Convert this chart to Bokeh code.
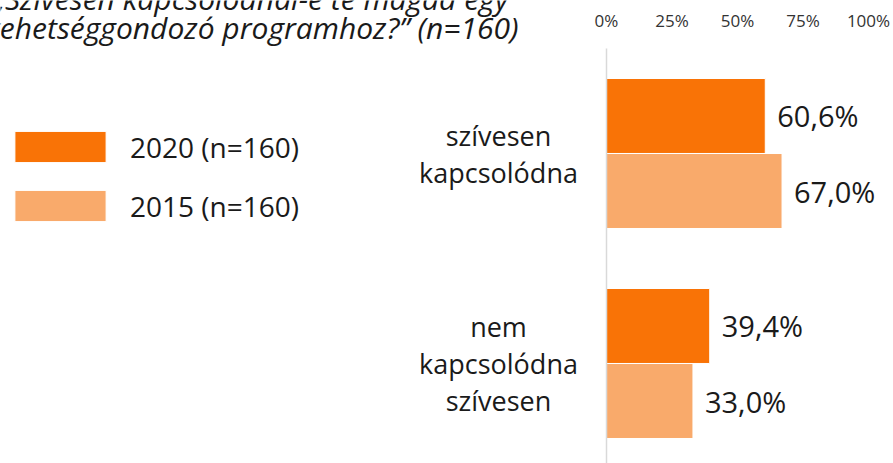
from bokeh.plotting import figure
from bokeh.models import Range1d, Legend, LegendItem, Label, ColumnDataSource
from bokeh.transform import dodge
from bokeh.core.properties import value
from bokeh.embed import file_html
from bokeh.resources import INLINE

# ---- data ----
categories = ["szívesen\nkapcsolódna", "nem\nkapcsolódna\nszívesen"]
cat_pos = [1, 0]
values_2020 = [60.6, 39.4]
values_2015 = [67.0, 33.0]
series = ["2020 (n=160)", "2015 (n=160)"]
tick_values = [0, 25, 50, 75, 100]
tick_labels = ["0%", "25%", "50%", "75%", "100%"]
title_lines = ["„Szívesen kapcsolódnál-e te magad egy",
               "tehetséggondozó programhoz?” (n=160)"]

c2020 = "#F97306"
c2015 = "#F9AA6B"
txt = "#1a1a1a"
FONT = "Open Sans"

def fmt(v):
    return f"{v:.1f}".replace(".", ",") + "%"

src = ColumnDataSource(dict(
    pos=cat_pos, cat=categories,
    v2020=values_2020, v2015=values_2015,
    l2020=[fmt(v) for v in values_2020],
    l2015=[fmt(v) for v in values_2015],
))
ticks = ColumnDataSource(dict(x=tick_values, t=tick_labels))

W, H = 893, 463
px_per_pct = 2.62      # horizontal scale
zero_px = 606          # where 0 % sits
band_px = 210          # height of one category band
top_cat_px = 153       # centre of the first category
y_top = 1 + top_cat_px / band_px
y_bot = -(H - (top_cat_px + band_px)) / band_px

p = figure(width=W, height=H,
           x_range=Range1d(-zero_px / px_per_pct, (W - zero_px) / px_per_pct),
           y_range=Range1d(y_bot, y_top),
           output_backend="svg", toolbar_location=None,
           x_axis_location=None, y_axis_location=None,
           min_border_left=0, min_border_right=0,
           min_border_top=0, min_border_bottom=0)
p.outline_line_color = None
p.grid.visible = False
p.background_fill_color = "white"

# value axis labels along the top
p.text(x="x", y=y_top, text="t", source=ticks, y_offset=20,
       text_align="center", text_baseline="middle",
       text_font=value(FONT), text_font_size="17px", text_color="#333333")

off = 0.1786
bh = 0.357
r1 = p.hbar(y=dodge("pos", off, range=p.y_range), left=0, right="v2020",
            height=bh, source=src, fill_color=c2020, line_color="white",
            line_width=1)
r2 = p.hbar(y=dodge("pos", -off, range=p.y_range), left=0, right="v2015",
            height=bh, source=src, fill_color=c2015, line_color="white",
            line_width=1)

# category axis line
p.segment(x0=0, x1=0, y0=y_bot, y1=max(cat_pos) + 0.5,
          line_color="#d9d9d9", line_width=1.5)

p.text(x="v2020", y=dodge("pos", off, range=p.y_range), text="l2020",
       source=src, x_offset=12, text_baseline="middle", text_align="left",
       text_font=value(FONT), text_font_size="29px", text_color=txt)
p.text(x="v2015", y=dodge("pos", -off, range=p.y_range), text="l2015",
       source=src, x_offset=12, text_baseline="middle", text_align="left",
       text_font=value(FONT), text_font_size="29px", text_color=txt)

p.text(x=0, y="pos", text="cat", source=src, x_offset=-108,
       text_baseline="middle", text_align="center", text_line_height=1.0,
       text_font=value(FONT), text_font_size="27px", text_color=txt)

legend = Legend(items=[LegendItem(label=series[0], renderers=[r1]),
                       LegendItem(label=series[1], renderers=[r2])],
                location=(3, 238), glyph_width=114, glyph_height=39,
                spacing=20, label_standoff=13, padding=0, margin=0,
                border_line_color=None, background_fill_alpha=0,
                label_text_font=FONT, label_text_font_size="28px",
                label_text_color=txt, label_text_baseline="middle")
p.add_layout(legend)

p.add_layout(Label(x=508, y=H + 2, x_units="screen", y_units="screen",
                   text=title_lines[0], text_align="right",
                   text_baseline="alphabetic", text_font=FONT,
                   text_font_style="italic", text_font_size="30px",
                   text_color=txt))
p.add_layout(Label(x=518, y=H - 27, x_units="screen", y_units="screen",
                   text=title_lines[1], text_align="right",
                   text_baseline="alphabetic", text_font=FONT,
                   text_font_style="italic", text_font_size="30px",
                   text_color=txt))

open("out.html", "w").write(file_html(p, INLINE))
